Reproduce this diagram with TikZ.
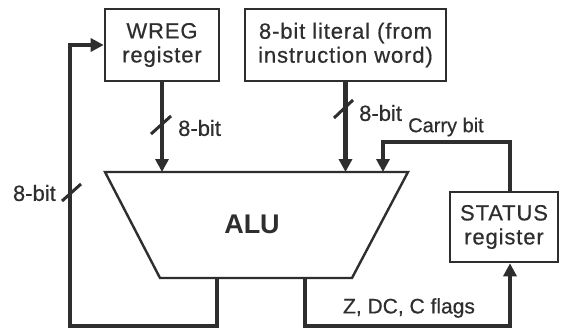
\documentclass[tikz,border=0pt]{standalone}
\usepackage{fontspec}
\setmainfont{Liberation Sans}[FakeBold=0.5]
\newfontfamily\boxfont{Liberation Sans}[LetterSpace=4,FakeBold=0.5]
\newfontfamily\alufont{Liberation Sans Bold}
\usetikzlibrary{arrows.meta}
\definecolor{ink}{HTML}{2E2E2E}
\begin{document}
\begin{tikzpicture}[x=1pt,y=-1pt,
  regbox/.style={draw=ink, line width=2.6pt, align=center, inner sep=0pt,
    font=\boxfont\fontsize{22}{24}\selectfont, text=ink},
  bus/.style={draw=ink, line width=4.2pt, line join=miter,
    -{Triangle[width=13pt,length=13pt]}},
  slash/.style={draw=ink, line width=3pt},
  lbl/.style={text=ink, inner sep=0pt, font=\fontsize{22}{24}\selectfont},
  alushape/.style={draw=ink, line width=2.4pt, line join=miter}]
\useasboundingbox (0,0) rectangle (563,332);
\fill[white] (0,0) rectangle (563,332);

% register boxes
\node[regbox, minimum width=114pt, minimum height=72pt] (wreg) at (162,45) {WREG\\register};
\node[regbox, minimum width=201pt, minimum height=72pt] (lit) at (345.5,45) {8-bit literal (from\\instruction word)};
\node[regbox, minimum width=108pt, minimum height=70pt] (status) at (504,227) {STATUS\\register};

% ALU trapezoid
\coordinate (atl) at (105,172);
\coordinate (atr) at (408,172);
\coordinate (abr) at (352,278);
\coordinate (abl) at (160,278);
\draw[alushape] (atl) -- (atr) -- (abr) -- (abl) -- cycle;
\node[text=ink, font=\alufont\fontsize{27}{30}\selectfont] (alu) at (252,224) {ALU};

% connection points
\coordinate (inw) at (162,172);
\coordinate (inl) at (lit.south |- atl);
\coordinate (inc) at (383,172);
\coordinate (outw) at (217,278);
\coordinate (outf) at (305,278);
\coordinate (sx) at (510,0);

% inputs
\draw[bus] (wreg.south) -- (inw);
\draw[bus] (lit.south) -- (inl);
\draw[bus] (sx |- status.north) -- (510,142) -- (383,142) -- (inc);

% feedback to WREG
\draw[bus] (outw) -- (217,326) -- (70,326) -- (70,45) -- (wreg.west);

% flags to STATUS
\draw[bus] (outf) -- (305,326) -- (510,326) -- (sx |- status.south);

% bus width slashes
\draw[slash] (151,134) -- (171,116);
\draw[slash] (334,118) -- (353,100);
\draw[slash] (62,201) -- (81,184);

% labels
\node[lbl, anchor=west] (l1) at (178,128) {8-bit};
\node[lbl, anchor=west] (l2) at (359,113) {8-bit};
\node[lbl, anchor=west, font=\fontsize{20}{22}\selectfont] (l3) at (408,127) {Carry bit};
\node[lbl, anchor=east] (l4) at (56,193) {8-bit};
\node[lbl, font=\fontsize{21}{23}\selectfont] (l5) at (409,308) {Z, DC, C flags};
\end{tikzpicture}
\end{document}
